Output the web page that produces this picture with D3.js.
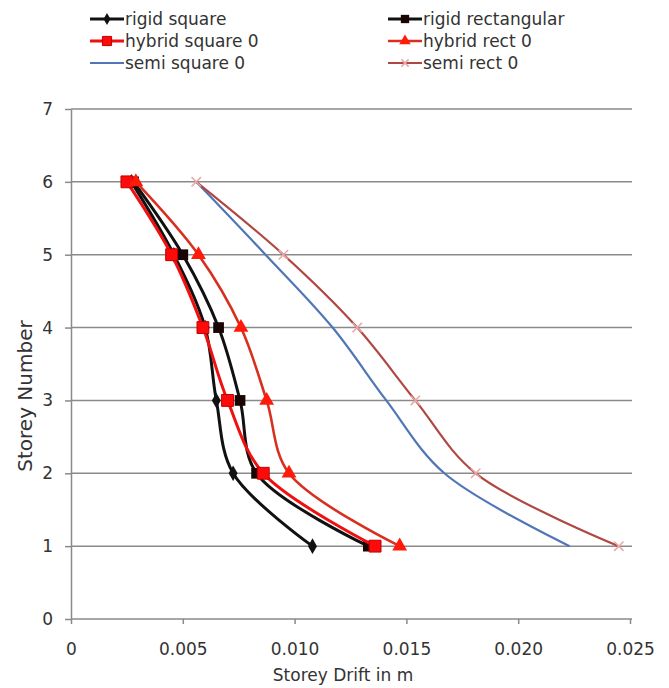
<!DOCTYPE html>
<html><head><meta charset="utf-8">
<script src="https://cdn.jsdelivr.net/npm/d3@7"></script>
<style>body{margin:0;background:#fff}svg{display:block}text{font-family:"DejaVu Sans",Verdana,sans-serif;fill:#333}</style>
</head><body><svg id="c" width="669" height="688"></svg>
<script>
const storeys = [1, 2, 3, 4, 5, 6];
const rigidSquare = [0.0108, 0.00725, 0.0065, 0.0060, 0.0046, 0.0027];
const rigidRect = [0.0133, 0.0083, 0.00756, 0.0066, 0.0050, 0.0028];
const hybridSquare = [0.0136, 0.0086, 0.0070, 0.0059, 0.0045, 0.0025];
const hybridRect = [0.0147, 0.00975, 0.00875, 0.0076, 0.0057, 0.0029];
const semiSquare = [0.0223, 0.0167, 0.0141, 0.0117, 0.0087, 0.0056];
const semiRect = [0.0245, 0.0181, 0.0154, 0.0128, 0.0095, 0.0056];
const xTicks = [0, 0.005, 0.010, 0.015, 0.020, 0.025];
const xTickLabels = ["0", "0.005", "0.010", "0.015", "0.020", "0.025"];
const yTicks = [0, 1, 2, 3, 4, 5, 6, 7];
const seriesNames = ["rigid square", "rigid rectangular", "hybrid square 0", "hybrid rect 0", "semi square 0", "semi rect 0"];

const series = [
  {name: seriesNames[0], vals: rigidSquare, color: "#111", width: 3, marker: "diamond", mfill: "#111", msize: 70},
  {name: seriesNames[1], vals: rigidRect, color: "#111", width: 3, marker: "square", mfill: "#1a0505", msize: 115},
  {name: seriesNames[2], vals: hybridSquare, color: "#f01010", width: 3, marker: "square", mfill: "#ff0a0a", msize: 140},
  {name: seriesNames[3], vals: hybridRect, color: "#d8301f", width: 2.6, marker: "triangle", mfill: "#ff1a0a", msize: 95},
  {name: seriesNames[4], vals: semiSquare, color: "#5076b8", width: 2.2, marker: "none"},
  {name: seriesNames[5], vals: semiRect, color: "#b04842", width: 2.2, marker: "cross", mfill: "#e8a8a8", msize: 60}
];

const svg = d3.select("#c");
const m = {l: 71, r: 632, t: 109, b: 619};
const x = d3.scaleLinear().domain([0, 0.025]).range([m.l, 630]);
const y = d3.scaleLinear().domain([0, 7]).range([m.b, m.t]);

// gridlines
svg.append("g").selectAll("line").data(yTicks.filter(d => d > 0)).join("line")
  .attr("x1", m.l).attr("x2", m.r).attr("y1", d => y(d)).attr("y2", d => y(d))
  .attr("stroke", "#8a8a8a").attr("stroke-width", 1.5);

// axes
const xAxis = svg.append("g").attr("transform", `translate(0,${m.b})`)
  .call(d3.axisBottom(x).tickValues(xTicks).tickFormat((d, i) => xTickLabels[i]).tickSize(5).tickSizeOuter(0).tickPadding(19));
const yAxis = svg.append("g").attr("transform", `translate(${m.l},0)`)
  .call(d3.axisLeft(y).tickValues(yTicks).tickFormat(d3.format("d")).tickSize(6).tickSizeOuter(0).tickPadding(12));
[xAxis, yAxis].forEach(a => {
  a.select(".domain").attr("stroke", "#8a8a8a").attr("stroke-width", 1.5);
  a.selectAll(".tick line").attr("stroke", "#8a8a8a").attr("stroke-width", 1.5);
  a.selectAll("text").attr("font-size", 17).attr("fill", "#333").style("font-family", "'DejaVu Sans', sans-serif");
});
xAxis.select(".domain").attr("d", `M${m.l},0H${m.r}`);

// titles
svg.append("text").attr("x", 343).attr("y", 681).attr("text-anchor", "middle").attr("font-size", 17).text("Storey Drift in m");
svg.append("text").attr("transform", "translate(32,396) rotate(-90)").attr("text-anchor", "middle").attr("font-size", 20).text("Storey Number");

const symType = {diamond: d3.symbolDiamond, square: d3.symbolSquare, triangle: d3.symbolTriangle, cross: d3.symbolX};
const line = d3.line().x(d => x(d[0])).y(d => y(d[1])).curve(d3.curveCatmullRom.alpha(0.5));

function drawMarker(g, s, cx, cy) {
  if (s.marker === "none") return;
  if (s.marker === "cross") {
    g.append("path").attr("d", d3.symbol(symType.cross, s.msize)()).attr("transform", `translate(${cx},${cy})`)
      .attr("fill", "none").attr("stroke", s.mfill).attr("stroke-width", 1.5);
    return;
  }
  g.append("path").attr("d", d3.symbol(symType[s.marker], s.msize)()).attr("transform", `translate(${cx},${cy})`)
    .attr("fill", s.mfill).attr("stroke", s.marker === "square" && s.mfill !== "#1a0505" ? "#c00000" : "none").attr("stroke-width", 1);
}

const drawOrder = [4, 5, 0, 1, 2, 3];
drawOrder.forEach(i => {
  const s = series[i];
  const pts = storeys.map((st, j) => [s.vals[j], st]);
  const g = svg.append("g");
  g.append("path").attr("d", line(pts)).attr("fill", "none").attr("stroke", s.color).attr("stroke-width", s.width);
  pts.forEach(p => drawMarker(g, s, x(p[0]), y(p[1])));
});

// legend
const leg = svg.append("g");
const cols = [90, 388], rows = [19, 41, 63];
series.forEach((s, i) => {
  const lx = cols[i % 2], ly = rows[Math.floor(i / 2)];
  const g = leg.append("g");
  g.append("line").attr("x1", lx).attr("x2", lx + 34).attr("y1", ly).attr("y2", ly).attr("stroke", s.color).attr("stroke-width", s.width);
  drawMarker(g, Object.assign({}, s, {msize: (s.msize || 0) * 0.6}), lx + 17, ly);
  g.append("text").attr("x", lx + 35).attr("y", ly + 6).attr("font-size", 17).text(s.name);
});
</script></body></html>
